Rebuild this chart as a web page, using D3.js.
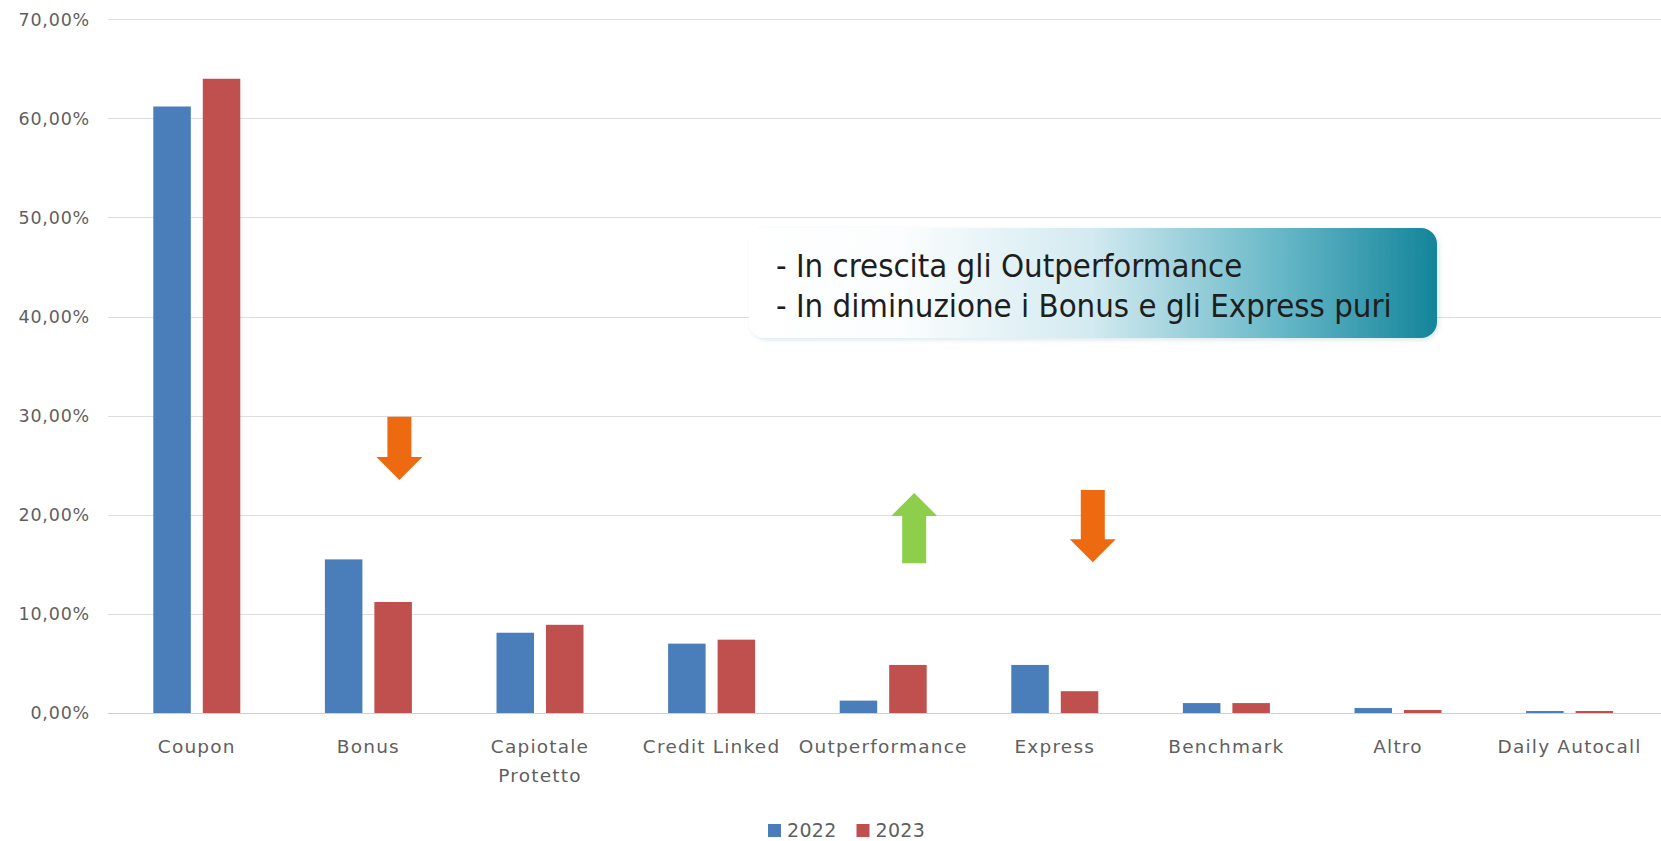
<!DOCTYPE html>
<html>
<head>
<meta charset="utf-8">
<script src="https://cdn.jsdelivr.net/npm/d3@7"></script>
<style>
  html, body { margin: 0; padding: 0; background: #fff; }
  svg { display: block; }
</style>
</head>
<body>
<div id="chart"></div>
<script>
// Tipologie di certificati, quota % 2022 vs 2023
var categories = ["Coupon", "Bonus", "Capiotale Protetto", "Credit Linked",
  "Outperformance", "Express", "Benchmark", "Altro", "Daily Autocall"];
var years = ["2022", "2023"];
var values2022 = [0.612, 0.155, 0.081, 0.070, 0.0125, 0.0485, 0.010, 0.005, 0.002];
var values2023 = [0.640, 0.112, 0.089, 0.074, 0.0485, 0.022, 0.010, 0.003, 0.002];
var yTicks = [0, 0.1, 0.2, 0.3, 0.4, 0.5, 0.6, 0.7];
var noteLines = ["- In crescita gli Outperformance",
  "- In diminuzione i Bonus e gli Express puri"];
// arrows: category, start value, end value (direction follows)
var arrowCats = ["Bonus", "Outperformance", "Express"];
var arrowFrom = [0.299, 0.151, 0.225];
var arrowTo = [0.235, 0.222, 0.152];
var arrowDx = [31, 31, 38];

(function () {
  var W = 1661, H = 841;
  var colors = { "2022": "#4a7ebb", "2023": "#c0504d" };
  var svg = d3.select("#chart").append("svg")
    .attr("width", W).attr("height", H).attr("viewBox", "0 0 " + W + " " + H);

  var defs = svg.append("defs");
  var grad = defs.append("linearGradient").attr("id", "noteGrad")
    .attr("x1", "0%").attr("x2", "100%").attr("y1", "0%").attr("y2", "0%");
  [["0%", "#ffffff"], ["22%", "#fbfdfe"], ["50%", "#d2eaf0"],
   ["78%", "#64b6c6"], ["100%", "#14849a"]].forEach(function (s) {
    grad.append("stop").attr("offset", s[0]).attr("stop-color", s[1]);
  });
  var shadow = defs.append("filter").attr("id", "shadow")
    .attr("x", "-2%").attr("y", "-10%").attr("width", "110%").attr("height", "130%");
  shadow.append("feDropShadow").attr("dx", 2).attr("dy", 2)
    .attr("stdDeviation", 2).attr("flood-color", "#0b6f80").attr("flood-opacity", 0.15);

  var y = d3.scaleLinear().domain([0, 0.7]).range([713, 19.3]);
  var x0 = d3.scaleBand().domain(categories).range([111, 1655.4]);
  var bc = x0.bandwidth() / 2;
  var x1 = d3.scaleBand().domain(years).range([bc - 43.5, bc + 43.5])
    .paddingInner(0.242);

  // gridlines
  svg.append("g").selectAll("line").data(yTicks).join("line")
    .attr("x1", 108).attr("x2", W)
    .attr("y1", function (d) { return Math.round(y(d)) + 0.5; })
    .attr("y2", function (d) { return Math.round(y(d)) + 0.5; })
    .attr("stroke", function (d) { return d === 0 ? "#cfcfcf" : "#dedede"; })
    .attr("stroke-width", 1.2);

  var fmt = function (d) { return (d * 100).toFixed(2).replace(".", ",") + "%"; };
  svg.append("g").selectAll("text").data(yTicks).join("text")
    .attr("x", 90).attr("y", function (d) { return y(d); })
    .attr("dy", "0.36em").attr("text-anchor", "end")
    .attr("font-family", "'DejaVu Sans', sans-serif").attr("font-size", 17.5)
    .attr("letter-spacing", 0.8).attr("fill", "#5f5f5f")
    .text(fmt);

  // bars
  var rows = categories.map(function (c, i) {
    return { cat: c, vals: [{ k: "2022", v: values2022[i] }, { k: "2023", v: values2023[i] }] };
  });
  var groups = svg.append("g").selectAll("g").data(rows).join("g")
    .attr("transform", function (d) { return "translate(" + x0(d.cat) + ",0)"; });
  groups.selectAll("rect").data(function (d) { return d.vals; }).join("rect")
    .attr("x", function (d) { return x1(d.k); })
    .attr("width", x1.bandwidth())
    .attr("y", function (d) { return y(d.v); })
    .attr("height", function (d) { return y(0) - y(d.v); })
    .attr("fill", function (d) { return colors[d.k]; });

  // category labels
  var xl = svg.append("g").selectAll("text").data(categories).join("text")
    .attr("x", function (d) { return x0(d) + bc; })
    .attr("y", 753).attr("text-anchor", "middle")
    .attr("font-family", "'DejaVu Sans', sans-serif").attr("font-size", 18.5)
    .attr("letter-spacing", 1.2).attr("fill", "#5f5f5f");
  xl.each(function (d) {
    var el = d3.select(this);
    var parts = d === "Capiotale Protetto" ? ["Capiotale", "Protetto"] : [d];
    parts.forEach(function (p, i) {
      el.append("tspan").attr("x", x0(d) + bc).attr("dy", i ? 29 : 0).text(p);
    });
  });

  // arrows
  arrowCats.forEach(function (c, i) {
    var cx = x0(c) + bc + arrowDx[i];
    var y0 = y(arrowFrom[i]), yt = y(arrowTo[i]);
    var s = yt > y0 ? 1 : -1; // 1 = down
    var hw = 23, sw = 12, hl = 23;
    var yh = yt - s * hl;
    var pts = [[cx - sw, y0], [cx + sw, y0], [cx + sw, yh], [cx + hw, yh],
      [cx, yt], [cx - hw, yh], [cx - sw, yh]];
    svg.append("path").attr("d", "M" + pts.join("L") + "Z")
      .attr("fill", s > 0 ? "#ee6a10" : "#8dcf4a");
  });

  // annotation box
  var note = svg.append("g");
  note.append("rect").attr("x", 749).attr("y", 228).attr("width", 688).attr("height", 110)
    .attr("rx", 16).attr("fill", "url(#noteGrad)").attr("filter", "url(#shadow)");
  var nt = note.selectAll("text").data(noteLines).join("text")
    .attr("x", 776).attr("y", function (d, i) { return 277 + i * 40; })
    .attr("font-family", "'DejaVu Sans Condensed', 'Liberation Sans Narrow', sans-serif")
    .attr("font-size", 30).attr("fill", "#1e1e1e").text(function (d) { return d; });
  var w2 = nt.nodes()[1].getComputedTextLength();
  if (w2 > 0) nt.attr("font-size", 30 * 616 / w2);

  // legend
  var lg = svg.append("g").selectAll("g").data(years).join("g")
    .attr("transform", function (d, i) { return "translate(" + (768 + i * 88.5) + ",824)"; });
  lg.append("rect").attr("width", 13).attr("height", 13)
    .attr("fill", function (d) { return colors[d]; });
  lg.append("text").attr("x", 19).attr("y", 13)
    .attr("font-family", "'DejaVu Sans', sans-serif").attr("font-size", 19)
    .attr("letter-spacing", 0.3).attr("fill", "#5f5f5f").text(function (d) { return d; });
})();
</script>
</body>
</html>
